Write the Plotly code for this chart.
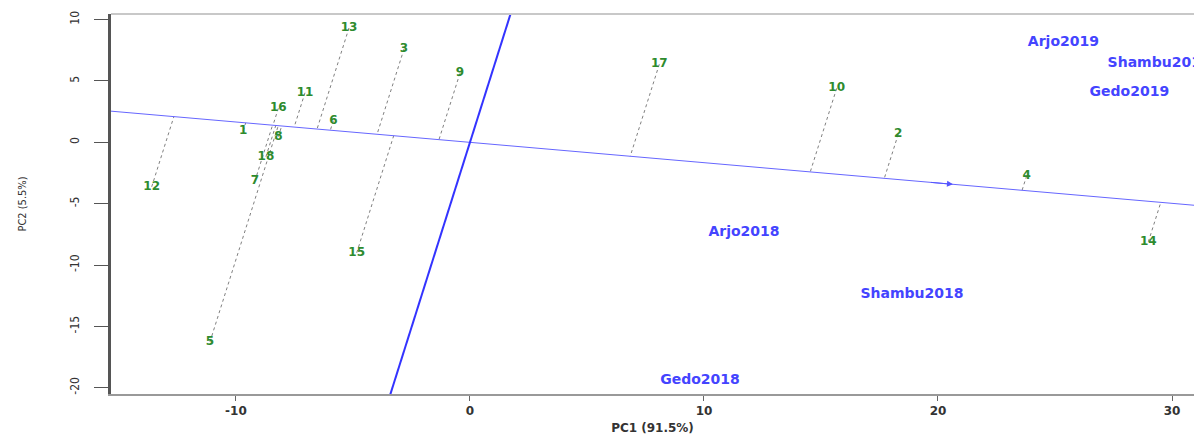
import numpy as np
import plotly.graph_objects as go

# Genotype scores (PC1, PC2)
gen_names = ["1", "2", "3", "4", "5", "6", "7", "8", "9", "10", "11", "12",
             "13", "14", "15", "16", "17", "18"]
gen_pc1 = [-9.69, 18.30, -2.82, 23.79, -11.11, -5.84, -9.19, -8.19, -0.43, 15.67,
           -7.05, -13.60, -5.17, 28.99, -4.84, -8.19, 8.09, -8.72]
gen_pc2 = [0.95, 0.65, 7.60, -2.72, -16.25, 1.76, -3.15, 0.46, 5.62, 4.40,
           4.04, -3.62, 9.32, -8.10, -9.00, 2.77, 6.36, -1.17]

# Environment scores (PC1, PC2)
env_names = ["Arjo2019", "Shambu2019", "Gedo2019", "Arjo2018", "Shambu2018", "Gedo2018"]
env_pc1 = [25.36, 29.45, 28.18, 11.71, 18.89, 9.83]
env_pc2 = [8.15, 6.44, 4.04, -7.37, -12.42, -19.40]

# Average environment coordinate (AEC arrow tip)
aec = [20.64, -3.42]

x_range = [-15.34, 30.94]
y_range = [-20.51, 10.46]
x_ticks = [-10, 0, 10, 20, 30]
y_ticks = [10, 5, 0, -5, -10, -15, -20]

d = np.array(aec, dtype=float)
slope = d[1] / d[0]

fig = go.Figure()

# dotted projection lines
gx = np.array(gen_pc1)
gy = np.array(gen_pc2)
t = (gx * d[0] + gy * d[1]) / (d @ d)
px_, py_ = t * d[0], t * d[1]
lx, ly = [], []
for i in range(len(gx)):
    lx += [gx[i], px_[i], None]
    ly += [gy[i], py_[i], None]
fig.add_trace(go.Scatter(x=lx, y=ly, mode="lines",
                         line=dict(color="#808080", width=1, dash="dot"),
                         hoverinfo="skip", showlegend=False))

# AEC abscissa
xa = np.array([-20.0, 40.0])
fig.add_trace(go.Scatter(x=xa, y=slope * xa, mode="lines",
                         line=dict(color="#6666ff", width=1),
                         hoverinfo="skip", showlegend=False))
# AEC ordinate
ya = np.array([-25.0, 15.0])
fig.add_trace(go.Scatter(x=-slope * ya, y=ya, mode="lines",
                         line=dict(color="#3333ff", width=2),
                         hoverinfo="skip", showlegend=False))

# arrow
fig.add_annotation(x=aec[0], y=aec[1], ax=aec[0] - 1.0, ay=aec[1] - slope * 1.0,
                   xref="x", yref="y", axref="x", ayref="y", text="",
                   showarrow=True, arrowhead=2, arrowsize=1.2, arrowwidth=1,
                   arrowcolor="#5555ff")

# genotype labels
fig.add_trace(go.Scatter(x=gen_pc1, y=gen_pc2, mode="text", text=gen_names,
                         textposition="middle center",
                         textfont=dict(family="DejaVu Sans", size=12, color="#2e8b2e",
                                       weight="bold"),
                         showlegend=False, cliponaxis=True))

# environment labels
fig.add_trace(go.Scatter(x=env_pc1, y=env_pc2, mode="text", text=env_names,
                         textposition="middle center",
                         textfont=dict(family="DejaVu Sans", size=14, color="#4444ff",
                                       weight="bold"),
                         showlegend=False, cliponaxis=True))

fig.add_shape(type="line", xref="paper", yref="paper", x0=0, x1=1, y0=1, y1=1,
              line=dict(color="#c8c8c8", width=2))

fig.update_layout(
    width=1194, height=435,
    margin=dict(l=111, r=0, t=14, b=41, pad=0),
    paper_bgcolor="white", plot_bgcolor="white",
    xaxis=dict(range=x_range, tickvals=x_ticks, ticktext=[str(v) for v in x_ticks],
               automargin=False,
               showgrid=False, zeroline=False, showline=True, linecolor="#999999",
               linewidth=2, ticks="outside", ticklen=5, tickcolor="#666666",
               tickfont=dict(family="DejaVu Sans", size=12, color="#333333", weight="bold"),
               title=dict(text="PC1 (91.5%)", standoff=6,
                          font=dict(family="DejaVu Sans", size=12, color="#333333",
                                    weight="bold"))),
    yaxis=dict(range=y_range, tickvals=y_ticks, ticktext=[str(v) for v in y_ticks],
               automargin=False,
               showgrid=False, zeroline=False, showline=True, linecolor="#555555",
               linewidth=3, ticks="outside", ticklen=14, tickcolor="#555555",
               tickangle=-90, ticklabelstandoff=10,
               tickfont=dict(family="DejaVu Sans Condensed, Liberation Sans Narrow, DejaVu Sans",
                             size=12, color="#333333"),
               title=dict(text="PC2 (5.5%)", standoff=40,
                          font=dict(family="DejaVu Sans Condensed, Liberation Sans Narrow, DejaVu Sans",
                                    size=11, color="#333333"))),
)

fig.write_html("out.html",
               config={"displayModeBar": False},
               post_script="document.body.style.margin='0';document.body.style.overflow='hidden';")
